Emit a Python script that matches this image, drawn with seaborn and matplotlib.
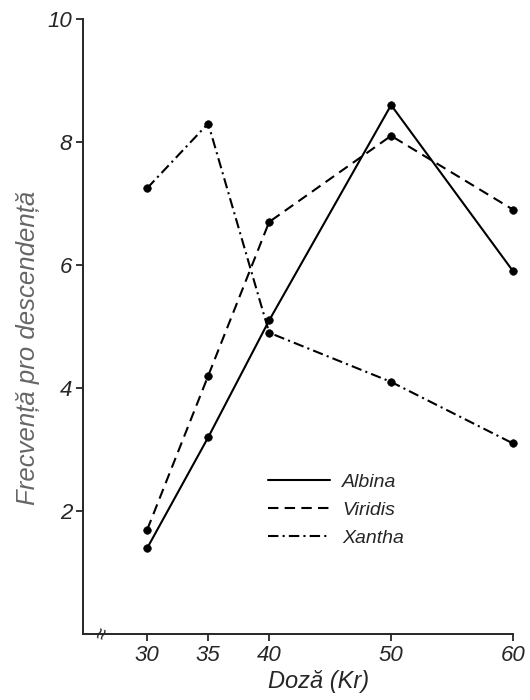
import numpy as np
import pandas as pd
import matplotlib
matplotlib.use('Agg')
import matplotlib.pyplot as plt
import seaborn as sns

# Values
doze = [30, 35, 40, 50, 60]
albina = [1.4, 3.2, 5.1, 8.6, 5.9]
viridis = [1.7, 4.2, 6.7, 8.1, 6.9]
xantha = [7.25, 8.3, 4.9, 4.1, 3.1]
serii = ['Albina', 'Viridis', 'Xantha']
y_ticks = [2, 4, 6, 8, 10]

sns.set_style('ticks')
plt.rcParams['font.family'] = ['Liberation Sans Narrow', 'Liberation Sans', 'DejaVu Sans']
plt.rcParams['font.style'] = 'italic'

data = pd.DataFrame({
    'Doza': doze * 3,
    'Frecventa': albina + viridis + xantha,
    'Mutant': np.repeat(serii, len(doze)),
})

fig = plt.figure(figsize=(5.3, 7), dpi=100)
ax = fig.add_axes([0.157, 0.094, 0.811, 0.879])

sns.lineplot(data=data, x='Doza', y='Frecventa', style='Mutant', style_order=serii,
             dashes={'Albina': '', 'Viridis': (5, 3), 'Xantha': (5, 2, 1, 2)},
             color='black', linewidth=1.5, ax=ax)
sns.scatterplot(data=data, x='Doza', y='Frecventa', color='black', s=30,
                edgecolor='black', legend=False, zorder=3, clip_on=False, ax=ax)

ax.set_xlim(24.75, 60)
ax.set_ylim(0, 10)
ax.set_xticks(doze)
ax.set_yticks(y_ticks)
ax.tick_params(axis='both', labelsize=16, length=5, width=1.3, direction='out', pad=3)
for s in ['top', 'right']:
    ax.spines[s].set_visible(False)
for s in ['left', 'bottom']:
    ax.spines[s].set_linewidth(1.4)

ax.set_xlabel('Doză (Kr)', fontsize=17)
ax.xaxis.set_label_coords(0.547, -0.058)
ax.set_ylabel('Frecvență pro descendență', fontsize=18.5, color='#666666')
ax.yaxis.set_label_coords(-0.1, 0.465)

# axis break mark
ax.text(26.3, 0, '≈', fontsize=15, rotation=70, ha='center', va='center',
        clip_on=False, transform=ax.transData)

ax.legend(loc='upper left', bbox_to_anchor=(0.43, 0.262), frameon=False, fontsize=14,
          handlelength=3.2, handletextpad=0.6, borderpad=0, borderaxespad=0,
          labelspacing=0.55)

fig.savefig('out.png', dpi=100)
